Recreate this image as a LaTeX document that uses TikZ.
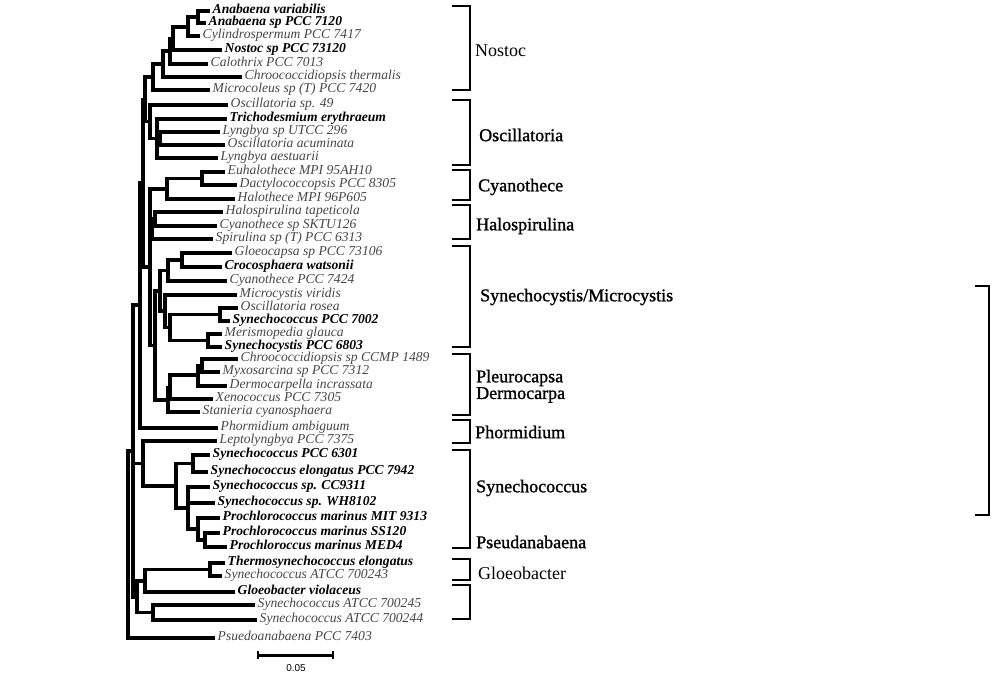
\documentclass[tikz,border=0pt]{standalone}
\usepackage{fontspec}
\setmainfont{Liberation Serif}
\setsansfont{Liberation Sans}
\newfontfamily\grpfont[FakeBold=1.2]{Liberation Serif}
\definecolor{leafgray}{RGB}{70,70,70}
\tikzset{
  branch/.style={line width=3.3pt, line join=miter},
  leaf/.style={anchor=west, inner xsep=2.5pt, inner ysep=0pt, text height=7pt, text depth=1.5pt,
    font=\fontsize{13.6}{14}\selectfont\itshape, text=leafgray},
  bleaf/.style={leaf, font=\fontsize{13.6}{14}\selectfont\bfseries\itshape, text=black},
  grp/.style={anchor=west, inner sep=0pt, font=\fontsize{18}{18}\selectfont},
  bgrp/.style={grp, font=\grpfont\fontsize{18}{18}\selectfont},
  bracket/.style={line width=2.3pt, line join=miter}
}

\begin{document}
\begin{tikzpicture}[x=1pt,y=-1pt]
        \useasboundingbox (0,0) rectangle (993,676);
        % leaves
        \node[bleaf] (l1) at (210,11) {Anabaena variabilis};
        \node[bleaf] (l2) at (206,23) {Anabaena sp PCC 7120};
        \node[leaf] (l3) at (200,36) {Cylindrospermum PCC 7417};
        \node[bleaf] (l4) at (222,50) {Nostoc sp PCC 73120};
        \node[leaf] (l5) at (208,64) {Calothrix PCC 7013};
        \node[leaf] (l6) at (242,77) {Chroococcidiopsis thermalis};
        \node[leaf] (l7) at (210,90) {Microcoleus sp (T) PCC 7420};
        \node[leaf] (l8) at (228,105) {Oscillatoria sp. 49};
        \node[bleaf] (l9) at (227,119) {Trichodesmium erythraeum};
        \node[leaf] (l10) at (220,132) {Lyngbya sp UTCC 296};
        \node[leaf] (l11) at (225,145) {Oscillatoria acuminata};
        \node[leaf] (l12) at (218,158) {Lyngbya aestuarii};
        \node[leaf] (l13) at (225,172) {Euhalothece MPI 95AH10};
        \node[leaf] (l14) at (237,185) {Dactylococcopsis PCC 8305};
        \node[leaf] (l15) at (235,199) {Halothece MPI 96P605};
        \node[leaf] (l16) at (223,212) {Halospirulina tapeticola};
        \node[leaf] (l17) at (217,226) {Cyanothece sp SKTU126};
        \node[leaf] (l18) at (213,239) {Spirulina sp (T) PCC 6313};
        \node[leaf] (l19) at (232,253) {Gloeocapsa sp PCC 73106};
        \node[bleaf] (l20) at (222,267) {Crocosphaera watsonii};
        \node[leaf] (l21) at (227,281) {Cyanothece PCC 7424};
        \node[leaf] (l22) at (237,295) {Microcystis viridis};
        \node[leaf] (l23) at (238,308) {Oscillatoria rosea};
        \node[bleaf] (l24) at (230,321) {Synechococcus PCC 7002};
        \node[leaf] (l25) at (222,334) {Merismopedia glauca};
        \node[bleaf] (l26) at (222,347) {Synechocystis PCC 6803};
        \node[leaf] (l27) at (238,359) {Chroococcidiopsis sp CCMP 1489};
        \node[leaf] (l28) at (220,372) {Myxosarcina sp PCC 7312};
        \node[leaf] (l29) at (227,386) {Dermocarpella incrassata};
        \node[leaf] (l30) at (213,399) {Xenococcus PCC 7305};
        \node[leaf] (l31) at (200,412) {Stanieria cyanosphaera};
        \node[leaf] (l32) at (218,428) {Phormidium ambiguum};
        \node[leaf] (l33) at (217,441) {Leptolyngbya PCC 7375};
        \node[bleaf] (l34) at (210,455) {Synechococcus PCC 6301};
        \node[bleaf] (l35) at (208,472) {Synechococcus elongatus PCC 7942};
        \node[bleaf] (l36) at (210,487) {Synechococcus sp. CC9311};
        \node[bleaf] (l37) at (215,503) {Synechococcus sp. WH8102};
        \node[bleaf] (l38) at (220,518) {Prochlorococcus marinus MIT 9313};
        \node[bleaf] (l39) at (220,533) {Prochlorococcus marinus SS120};
        \node[bleaf] (l40) at (227,547) {Prochloroccus marinus MED4};
        \node[bleaf] (l41) at (225,563) {Thermosynechococcus elongatus};
        \node[leaf] (l42) at (222,576) {Synechococcus ATCC 700243};
        \node[bleaf] (l43) at (235,592) {Gloeobacter violaceus};
        \node[leaf] (l44) at (255,605) {Synechococcus ATCC 700245};
        \node[leaf] (l45) at (257,620) {Synechococcus ATCC 700244};
        \node[leaf] (l46) at (215,638) {Psuedoanabaena PCC 7403};
        % internal nodes
        \coordinate (a1) at (198,17);
        \coordinate (a2) at (188,27);
        \coordinate (a3) at (173,38.5);
        \coordinate (a4) at (170,51);
        \coordinate (a5) at (163,64);
        \coordinate (a6) at (153,77);
        \coordinate (o3) at (160,138.5);
        \coordinate (o2) at (157,138.5);
        \coordinate (o1) at (150,121.75);
        \coordinate (n0) at (145,99.4);
        \coordinate (e1) at (202,178.5);
        \coordinate (e0) at (167,189);
        \coordinate (h1) at (155,219);
        \coordinate (h0) at (152,229);
        \coordinate (g1) at (182,260);
        \coordinate (g0) at (168,270.5);
        \coordinate (r1) at (220,314.5);
        \coordinate (m1) at (208,340.5);
        \coordinate (r0) at (170,327.5);
        \coordinate (mv) at (165,311);
        \coordinate (sy) at (160,291);
        \coordinate (c1) at (202,365.5);
        \coordinate (c0) at (198,375);
        \coordinate (x0) at (170,387.5);
        \coordinate (x1) at (168,400);
        \coordinate (cy) at (155,345.5);
        \coordinate (hc) at (150,267);
        \coordinate (nb) at (143,183);
        \coordinate (ph) at (140,305);
        \coordinate (s1) at (193,463.5);
        \coordinate (p2) at (205,540);
        \coordinate (p1) at (198,529);
        \coordinate (s2) at (188,508);
        \coordinate (s0) at (176,486);
        \coordinate (ls) at (143,463.5);
        \coordinate (t1) at (210,569.5);
        \coordinate (g2) at (145,581);
        \coordinate (a7) at (153,612.5);
        \coordinate (g3) at (137,597);
        \coordinate (mm) at (133,451);
        \coordinate (root) at (128,545);
        % branches
        \foreach \p/\c in {a1/l1.west, a1/l2.west, a2/a1, a2/l3.west, a3/a2, a3/l4.west,
                a4/a3, a4/l5.west, a5/a4, a5/l6.west, a6/a5, a6/l7.west,
                o3/l10.west, o3/l11.west, o2/l9.west, o2/o3, o2/l12.west, o1/l8.west, o1/o2,
                n0/a6, n0/o1, e1/l13.west, e1/l14.west, e0/e1, e0/l15.west,
                h1/l16.west, h1/l17.west, h0/h1, h0/l18.west,
                g1/l19.west, g1/l20.west, g0/g1, g0/l21.west,
                r1/l23.west, r1/l24.west, m1/l25.west, m1/l26.west, r0/r1, r0/m1,
                mv/l22.west, mv/r0, sy/g0, sy/mv,
                c1/l27.west, c1/l28.west, c0/c1, c0/l29.west, x0/c0, x0/l30.west,
                x1/x0, x1/l31.west, cy/sy, cy/x1, hc/e0, hc/h0, hc/cy,
                nb/n0, nb/hc, ph/nb, ph/l32.west,
                s1/l34.west, s1/l35.west, p2/l39.west, p2/l40.west, p1/l38.west, p1/p2,
                s2/l36.west, s2/l37.west, s2/p1, s0/s1, s0/s2, ls/l33.west, ls/s0,
                t1/l41.west, t1/l42.west, g2/t1, g2/l43.west, a7/l44.west, a7/l45.west,
                g3/g2, g3/a7, mm/ph, mm/ls, mm/g3, root/mm, root/l46.west}
            \draw[branch] (\p) |- (\c);
        % group brackets
        \foreach \t/\b in {6/90, 100/165, 170/200, 205/239, 246/347, 354/415,
                420/443, 450/548, 559/580, 585/619}
            \draw[bracket] (452,\t) -- (470,\t) -- (470,\b) -- (452,\b);
        \draw[bracket] (975,286) -- (989,286) -- (989,515) -- (975,515);
        \node[grp] (nostoc) at (475,51) {Nostoc};
        \node[bgrp] (oscil) at (479,135) {Oscillatoria};
        \node[bgrp] (cyano) at (478,187) {Cyanothece};
        \node[bgrp] (halo) at (476,226) {Halospirulina};
        \node[bgrp] (synmic) at (480,297) {Synechocystis/Microcystis};
        \node[bgrp] (pleuro) at (476,378) {Pleurocapsa};
        \node[bgrp] (dermo) at (476,395) {Dermocarpa};
        \node[bgrp] (phorm) at (475,432) {Phormidium};
        \node[bgrp] (synco) at (476,488) {Synechococcus};
        \node[bgrp] (pseud) at (476,542) {Pseudanabaena};
        \node[grp] (gloeo) at (478,573) {Gloeobacter};
        % scale bar
        \coordinate (sbl) at (258,655);
        \coordinate (sbr) at (333,655);
        \draw[line width=3pt] (sbl) -- (sbr);
        \draw[line width=2pt] ([yshift=-4pt]sbl) -- ([yshift=4pt]sbl);
        \draw[line width=2pt] ([yshift=-4pt]sbr) -- ([yshift=4pt]sbr);
        \node[font=\sffamily\fontsize{10}{10}\selectfont, inner sep=0pt] (sblab) at (296,668) {0.05};
    \end{tikzpicture}
\end{document}
